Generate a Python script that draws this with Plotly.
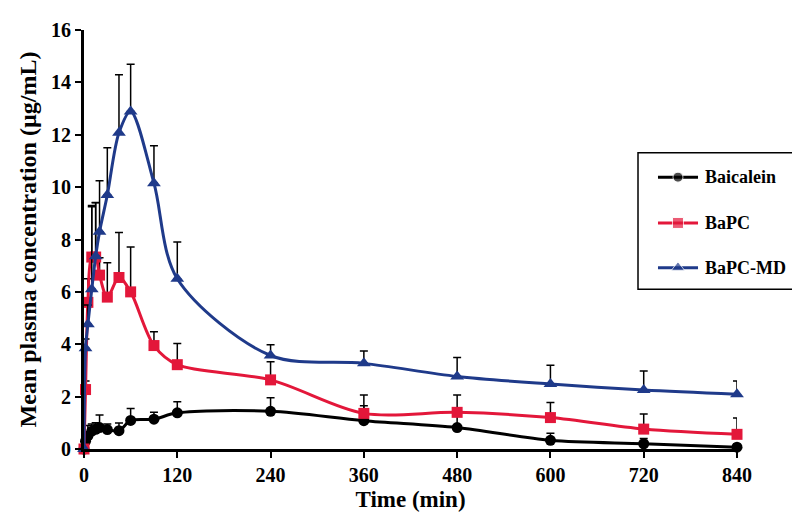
import plotly.graph_objects as go

times = [0, 2, 5, 10, 15, 20, 30, 45, 60, 90, 120, 240, 360, 480, 600, 720, 840]

baicalein = [0, 0.3, 0.5, 0.68, 0.75, 0.82, 0.74, 0.7, 1.09, 1.14, 1.38, 1.44, 1.08, 0.82, 0.33, 0.2, 0.07]
baicalein_sd = [0, 0.3, 0.4, 0.27, 0.25, 0.48, 0.21, 0.29, 0.46, 0.26, 0.42, 0.52, 0.57, 0.43, 0.27, 0.2, 0.12]

bapc = [0, 2.27, 5.6, 7.33, 7.33, 6.64, 5.8, 6.55, 6.0, 3.95, 3.22, 2.64, 1.36, 1.4, 1.2, 0.76, 0.56]
bapc_sd = [0, 0.33, 0.9, 1.92, 2.07, 0.66, 1.31, 1.72, 1.71, 0.53, 0.81, 0.69, 0.7, 0.66, 0.58, 0.58, 0.62]

bapc_md = [0, 3.85, 4.76, 6.1, 7.36, 8.3, 9.7, 12.08, 12.89, 10.15, 6.5, 3.57, 3.27, 2.77, 2.48, 2.25, 2.09]
bapc_md_sd = [0, 0.35, 0.74, 3.2, 2.05, 1.94, 1.8, 2.21, 1.8, 1.43, 1.4, 0.41, 0.47, 0.72, 0.72, 0.73, 0.51]

series_names = ["Baicalein", "BaPC", "BaPC-MD"]
x_ticks = [0, 120, 240, 360, 480, 600, 720, 840]
y_ticks = [0, 2, 4, 6, 8, 10, 12, 14, 16]

FONT = "Liberation Serif"
colors = ["#000000", "#E3173A", "#1F3A8A"]
symbols = ["circle", "square", "triangle-up"]
sizes = [11, 11, 12]
values = [baicalein, bapc, bapc_md]
sds = [baicalein_sd, bapc_sd, bapc_md_sd]

fig = go.Figure()
for name, vals, sd, color, sym, size in zip(series_names, values, sds, colors, symbols, sizes):
    fig.add_trace(go.Scatter(
        x=times, y=vals, name=name, mode="lines+markers",
        line=dict(color=color, width=3, shape="spline", smoothing=0.9),
        marker=dict(color=color, symbol=sym, size=size),
        error_y=dict(type="data", array=sd, arrayminus=[0] * len(sd), symmetric=False,
                     color="black", thickness=1.5, width=4),
        cliponaxis=False, showlegend=False,
    ))

# manual legend (paper coordinates)
leg_x0, leg_x1, leg_y0, leg_y1 = 0.8484, 1.1011, 0.3814, 0.707
item_y = [0.6488, 0.5395, 0.4326]
line_x0, line_x1, mark_x, text_x = 0.879, 0.9403, 0.9096, 0.948

shapes = [dict(type="rect", xref="paper", yref="paper", x0=leg_x0, x1=leg_x1, y0=leg_y0, y1=leg_y1,
               line=dict(color="black", width=1.5), fillcolor="white", layer="below")]
annotations = []
for name, color, yy in zip(series_names, colors, item_y):
    shapes.append(dict(type="line", xref="paper", yref="paper", x0=line_x0, x1=line_x1, y0=yy, y1=yy,
                       line=dict(color=color, width=3), layer="below"))
    annotations.append(dict(xref="paper", yref="paper", x=text_x, y=yy, text=name, showarrow=False,
                            xanchor="left", yanchor="middle",
                            font=dict(family=FONT, size=18, weight="bold", color="black")))

fig.add_trace(go.Scatter(
    x=[mark_x] * 3, y=item_y, mode="markers", xaxis="x2", yaxis="y2",
    marker=dict(color=colors, symbol=symbols, size=[10, 11, 12]),
    showlegend=False, hoverinfo="skip", cliponaxis=False,
))

fig.update_layout(
    width=800, height=515,
    margin=dict(l=76, r=71, t=11, b=74),
    plot_bgcolor="white", paper_bgcolor="white",
    font=dict(family=FONT, color="black"),
    showlegend=False,
    shapes=shapes, annotations=annotations,
    xaxis=dict(
        range=[0, 840], tickvals=x_ticks, ticktext=[str(t) for t in x_ticks],
        showline=True, linecolor="black", linewidth=3,
        ticks="outside", ticklen=6, tickwidth=2, tickcolor="black",
        showgrid=False, zeroline=False,
        tickfont=dict(family=FONT, size=20, weight="bold"),
        title=dict(text="Time (min)", font=dict(family=FONT, size=23, weight="bold"), standoff=6),
    ),
    yaxis=dict(
        range=[0, 16], tickvals=y_ticks,
        showline=True, linecolor="black", linewidth=3,
        ticks="outside", ticklen=6, tickwidth=2, tickcolor="black",
        showgrid=False, zeroline=False,
        tickfont=dict(family=FONT, size=20, weight="bold"),
        title=dict(text="Mean plasma concentration (µg/mL)", font=dict(family=FONT, size=24, weight="bold"), standoff=8),
    ),
    xaxis2=dict(range=[0, 1], overlaying="x", visible=False, fixedrange=True),
    yaxis2=dict(range=[0, 1], overlaying="y", visible=False, fixedrange=True),
)

fig.write_html("out.html")
